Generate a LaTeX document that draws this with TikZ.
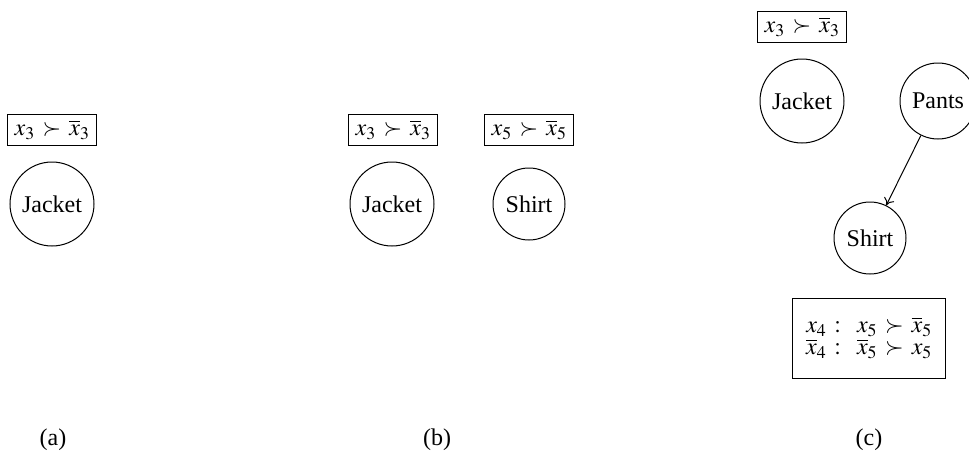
\documentclass[tikz,border=0pt]{standalone}
\usepackage{mathptmx}
\usepackage[no-math]{fontspec}
\setmainfont{Liberation Serif}
\usetikzlibrary{arrows.meta}
\begin{document}
\begin{tikzpicture}[x=1pt,y=-1pt,
  every node/.style={font=\fontsize{24}{28}\selectfont},
  cond/.style={draw,line width=1pt,inner sep=0pt,minimum height=31pt,minimum width=89pt},
  var/.style={draw,circle,line width=1pt,inner sep=0pt},
  lab/.style={inner sep=0pt}]
\useasboundingbox (0,0) rectangle (969,455);
% (a)
\node[cond] (ca) at (52,130) {$x_3 \mathrel{\,\succ\,} \overline{x}_3$};
\node[var,minimum size=84pt] (ja) at (52,204) {Jacket};
\node[lab] (la) at (53,440) {(a)};
% (b)
\node[cond] (cb1) at (393,130) {$x_3 \mathrel{\,\succ\,} \overline{x}_3$};
\node[var,minimum size=84pt] (jb) at (392,204) {Jacket};
\node[cond] (cb2) at (529,130) {$x_5 \mathrel{\,\succ\,} \overline{x}_5$};
\node[var,minimum size=72pt] (sb) at (529,204) {Shirt};
\node[lab] (lb) at (437,440) {(b)};
% (c)
\node[cond] (cc1) at (802,27) {$x_3 \mathrel{\,\succ\,} \overline{x}_3$};
\node[var,minimum size=84pt] (jc) at (802,101) {Jacket};
\node[var,minimum size=76pt] (pc) at (938,101) {Pants};
\node[var,minimum size=72pt] (sc) at (870,238) {Shirt};
\draw[line width=1pt,-{To[length=7pt,width=11pt]}] (pc) -- (sc);
\node[draw,line width=1pt,minimum width=153pt,minimum height=80pt,inner sep=0pt] (cc2) at (869,338)
  {$\begin{array}{@{}r@{\;\,:\;\;\;}l@{}} x_4 & x_5 \mathrel{\,\succ\,} \overline{x}_5\\[-6pt] \overline{x}_4 & \overline{x}_5 \mathrel{\,\succ\,} x_5\end{array}$};
\node[lab] (lc) at (869,440) {(c)};
\end{tikzpicture}
\end{document}
